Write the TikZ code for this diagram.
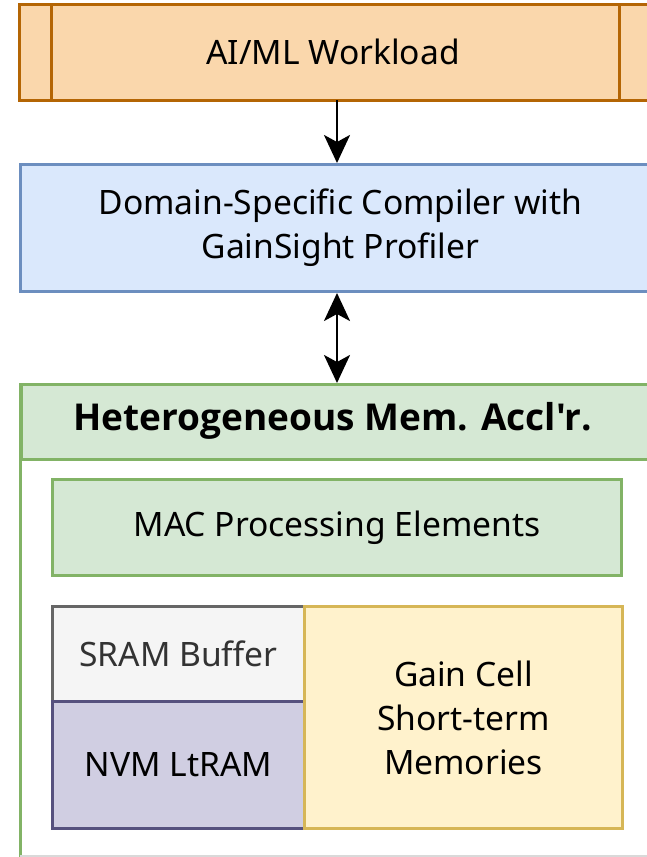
\documentclass[tikz,border=0pt]{standalone}
\usepackage{fontspec}
\setmainfont{Noto Sans}
\newfontfamily\hdrfont{Open Sans}
\usetikzlibrary{arrows.meta}
\definecolor{orfill}{HTML}{FAD7AC}
\definecolor{ordraw}{HTML}{B46504}
\definecolor{blfill}{HTML}{DAE8FC}
\definecolor{bldraw}{HTML}{6C8EBF}
\definecolor{grfill}{HTML}{D5E8D4}
\definecolor{grdraw}{HTML}{82B366}
\definecolor{gyfill}{HTML}{F5F5F5}
\definecolor{gydraw}{HTML}{666666}
\definecolor{pufill}{HTML}{D0CEE2}
\definecolor{pudraw}{HTML}{56517E}
\definecolor{yefill}{HTML}{FFF2CC}
\definecolor{yedraw}{HTML}{D6B656}
\begin{document}
\begin{tikzpicture}[x=1pt,y=-1pt,
  >={Stealth[length=28pt,width=26pt,inset=7pt]},
  txt/.style={font=\fontsize{33.6}{44}\selectfont},
  box/.style={draw, line width=3pt, inner sep=0pt, align=center, txt},
  link/.style={line width=2.6pt, ->},
  twolink/.style={line width=2.6pt, <->}]
\useasboundingbox (0,0) rectangle (647,857);
\clip (0,0) rectangle (647,857);
% workload (process shape, running off the right edge)
\draw[fill=orfill, draw=ordraw, line width=3pt] (19,4) rectangle (680,100);
\draw[draw=ordraw, line width=3pt] (51,4) -- (51,100) (619,4) -- (619,100);
\node[txt] (work) at (333,52) {AI/ML Workload};
\coordinate (workS) at (337,100);
% compiler
\node[box, fill=blfill, draw=bldraw, minimum width=640pt, minimum height=127pt, anchor=north west]
  (comp) at (19,163) {Domain-Specific Compiler with\\GainSight Profiler};
% accelerator container
\draw[draw=grdraw, line width=3pt] (20,383) -- (20,858);
\draw[draw=gray!30, line width=1.2pt] (20,856) -- (647,856);
\node[box, fill=grfill, draw=grdraw, minimum width=640pt, minimum height=75pt, anchor=north west]
  (acc) at (20,383) {};
\node[font=\hdrfont\bfseries\fontsize{37}{44}\selectfont] (acct) at (333,421) {Heterogeneous Mem. Accl'r.};
\node[box, fill=grfill, draw=grdraw, minimum width=569pt, minimum height=96pt, anchor=north west]
  (mac) at (51,478) {MAC Processing Elements};
\node[box, fill=gyfill, draw=gydraw, text=black!80, minimum width=252pt, minimum height=95pt, anchor=north west]
  (sram) at (51,605) {SRAM Buffer};
\node[box, fill=pufill, draw=pudraw, minimum width=252pt, minimum height=127pt, anchor=north west]
  (nvm) at (51,700) {NVM LtRAM};
\node[box, fill=yefill, draw=yedraw, minimum width=318pt, minimum height=222pt, anchor=north west]
  (gain) at (303,605) {Gain Cell\\Short-term\\Memories};
% connectors
\draw[link] (workS) -- (workS |- comp.north);
\draw[twolink] (workS |- comp.south) -- (workS |- acc.north);
\end{tikzpicture}
\end{document}
